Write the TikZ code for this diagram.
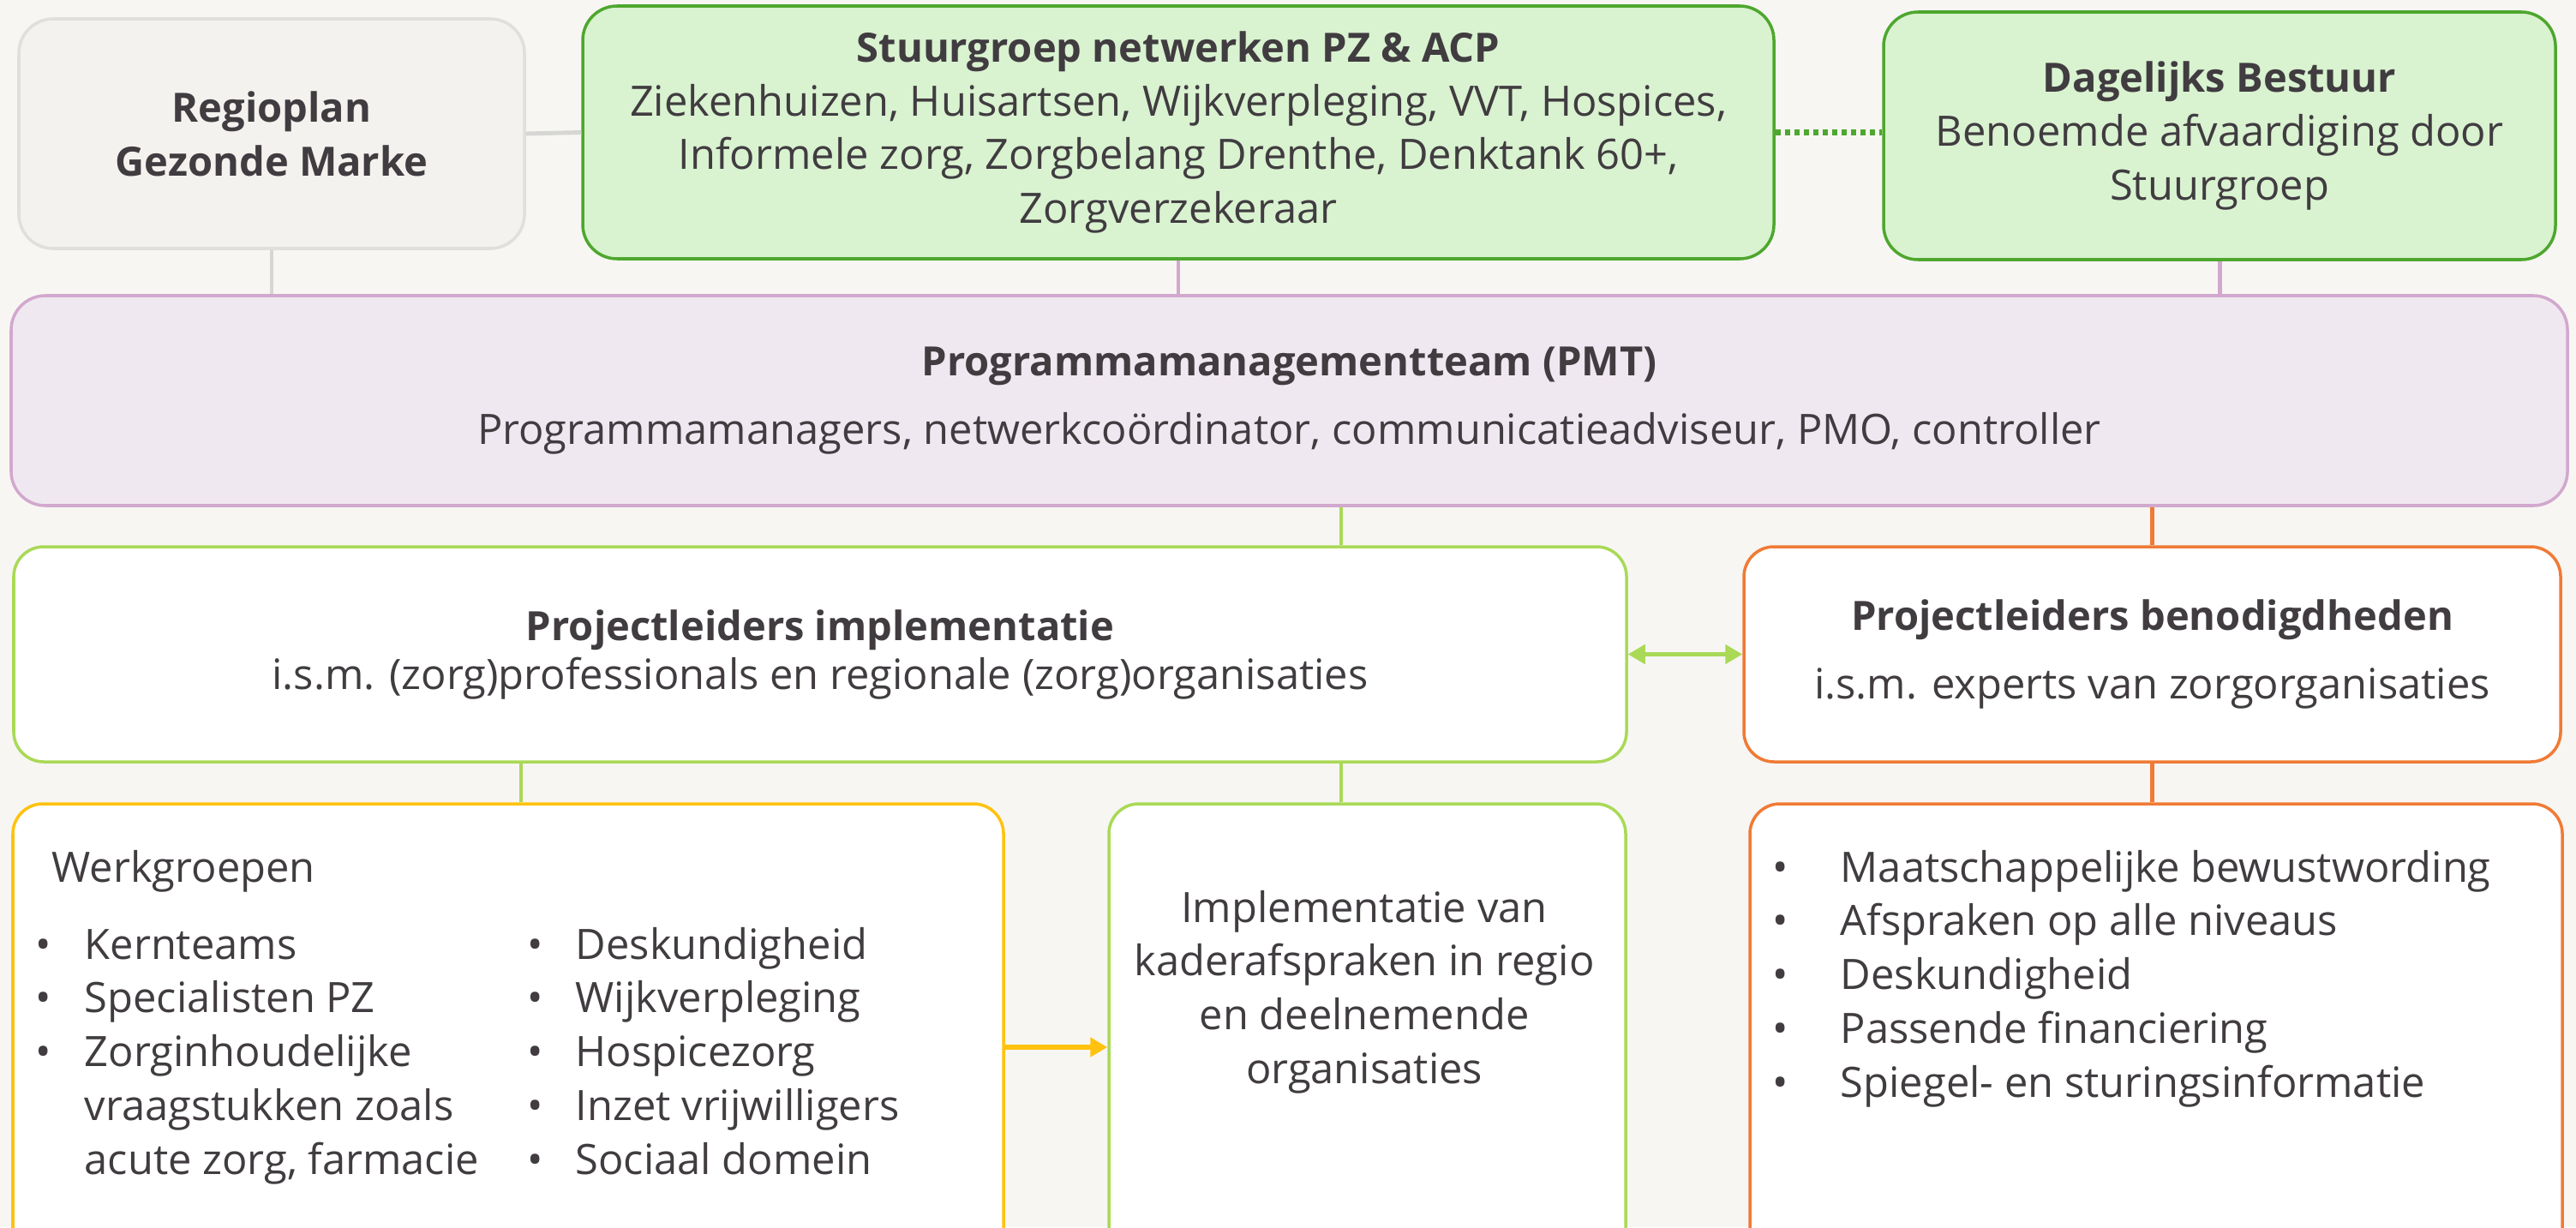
\documentclass[tikz,border=0pt]{standalone}
\usepackage{fontspec}
\setmainfont{Open Sans}
\usepackage{xcolor}
\usepackage{tikz}
\usetikzlibrary{shapes,arrows.meta,positioning,fit,backgrounds}

\definecolor{achter}{HTML}{F7F6F3}
\definecolor{tekst}{HTML}{403C40}
\definecolor{grijsvul}{HTML}{F3F2EE}
\definecolor{grijsrand}{HTML}{E0DFDC}
\definecolor{grijslijn}{HTML}{D6D6D4}
\definecolor{groenvul}{HTML}{D9F2D0}
\definecolor{groenrand}{HTML}{4EA72E}
\definecolor{paarsvul}{HTML}{F0E8F0}
\definecolor{paarsrand}{HTML}{D2A8CE}
\definecolor{limoen}{HTML}{A9D957}
\definecolor{oranje}{HTML}{F07A35}
\definecolor{geel}{HTML}{FFC20E}

\newcommand{\titel}[1]{{\fontsize{13.4}{17.9}\selectfont\bfseries #1}}

\begin{document}
\begin{tikzpicture}[
    x=1cm, y=-1cm,
    font=\fontsize{13.9}{17.9}\selectfont, text=tekst,
    blok/.style={rectangle, rounded corners=0.4cm, draw, line width=1pt, align=center, inner sep=0pt},
    zakken/.style={execute at begin node={\rule{0pt}{0.48cm}}},
    grijs/.style={blok, draw=grijsrand, fill=grijsvul},
    groen/.style={blok, zakken, draw=groenrand, fill=groenvul},
    paars/.style={blok, zakken, draw=paarsrand, fill=paarsvul},
    limoenblok/.style={blok, draw=limoen, fill=white, rounded corners=0.35cm},
    oranjeblok/.style={blok, draw=oranje, fill=white, rounded corners=0.35cm},
    geelblok/.style={blok, draw=geel, fill=white, rounded corners=0.35cm},
    lijst/.style={anchor=base west, inner sep=0pt},
    lijn/.style={line width=1.4pt},
    kop/.tip={Triangle[length=0.2cm, width=0.22cm]},
    pijl/.style={line width=1.6pt, -kop}
]
    \useasboundingbox (0,0) rectangle (30.06,14.32);
    \clip (0,0) rectangle (30.06,14.32);
    \fill[achter] (0,0) rectangle (30.06,14.32);

    \node[grijs, minimum width=5.90cm, minimum height=2.68cm] (regioplan) at (3.17,1.56)
        {\titel{Regioplan}\\\titel{Gezonde Marke}};
    \node[groen, minimum width=13.90cm, minimum height=2.95cm] (stuurgroep) at (13.75,1.545)
        {\titel{Stuurgroep netwerken PZ \& ACP}\\Ziekenhuizen, Huisartsen, Wijkverpleging, VVT, Hospices,\\Informele zorg, Zorgbelang Drenthe, Denktank 60+,\\Zorgverzekeraar};
    \node[groen, minimum width=7.84cm, minimum height=2.89cm] (bestuur) at (25.90,1.585)
        {\titel{Dagelijks Bestuur}\\Benoemde afvaardiging door\\Stuurgroep};
    \node[paars, minimum width=29.83cm, minimum height=2.45cm] (pmt) at (15.045,4.675)
        {\titel{Programmamanagementteam (PMT)}\\[4.9pt]Programmamanagers, netwerkcoördinator, communicatieadviseur, PMO, controller};
    \node[limoenblok, minimum width=18.82cm, minimum height=2.51cm] (implementatie) at (9.57,7.635)
        {\titel{Projectleiders implementatie}\\[-1.7pt]i.s.m. (zorg)professionals en regionale (zorg)organisaties};
    \node[oranjeblok, zakken, minimum width=9.53cm, minimum height=2.51cm] (benodigd) at (25.115,7.635)
        {\titel{Projectleiders benodigdheden}\\[4.9pt]i.s.m. experts van zorgorganisaties};
    \node[geelblok, minimum width=11.56cm, minimum height=5.52cm] (werkgroepen) at (5.93,12.14) {};
    \node[limoenblok, minimum width=6.03cm, minimum height=5.52cm] (kader) at (15.955,12.14) {};
    \node[oranjeblok, minimum width=9.48cm, minimum height=5.52cm] (middelen) at (25.16,12.14) {};

    \node[lijst] (wgkop) at (0.60,10.29) {Werkgroepen};
    \node[lijst] (wglijst) at (0.41,11.19) {\begin{tabular}[t]{@{}p{0.57cm}@{}p{5.17cm}@{}p{0.56cm}@{}l@{}}
        \textbullet & Kernteams & \textbullet & Deskundigheid\\
        \textbullet & Specialisten PZ & \textbullet & Wijkverpleging\\
        \textbullet & Zorginhoudelijke & \textbullet & Hospicezorg\\
        & vraagstukken zoals & \textbullet & Inzet vrijwilligers\\
        & acute zorg, farmacie & \textbullet & Sociaal domein
    \end{tabular}};
    \node[anchor=base, inner sep=0pt] (kadertekst) at (15.92,10.76) {\begin{tabular}[t]{@{}c@{}}
        Implementatie van\\kaderafspraken in regio\\en deelnemende\\organisaties
    \end{tabular}};
    \node[lijst] (middelenlijst) at (20.68,10.29) {\begin{tabular}[t]{@{}p{0.79cm}@{}l@{}}
        \textbullet & Maatschappelijke bewustwording\\
        \textbullet & Afspraken op alle niveaus\\
        \textbullet & Deskundigheid\\
        \textbullet & Passende financiering\\
        \textbullet & Spiegel- en sturingsinformatie
    \end{tabular}};

    \draw[lijn, grijslijn] (regioplan.east) -- (stuurgroep.west);
    \draw[groenrand, line width=1.8pt, dash pattern=on 0.06cm off 0.05cm] (stuurgroep.east) -- (stuurgroep.east -| bestuur.west);
    \draw[lijn, grijslijn] (regioplan.south) -- (regioplan.south |- pmt.north);
    \draw[lijn, paarsrand] (stuurgroep.south) -- (stuurgroep.south |- pmt.north);
    \draw[lijn, paarsrand] (bestuur.south) -- (bestuur.south |- pmt.north);
    \draw[lijn, limoen] (pmt.south -| 15.65,0) -- (implementatie.north -| 15.65,0);
    \draw[lijn, oranje] (benodigd.north) -- (benodigd.north |- pmt.south);
    \draw[lijn, limoen] (implementatie.south -| 6.08,0) -- (werkgroepen.north -| 6.08,0);
    \draw[lijn, limoen] (implementatie.south -| 15.65,0) -- (kader.north -| 15.65,0);
    \draw[lijn, oranje] (benodigd.south) -- (benodigd.south |- middelen.north);
    \draw[lijn, limoen, kop-kop] (implementatie.east) -- (benodigd.west);
    \draw[pijl, geel] (werkgroepen.east |- 0,12.22) -- (kader.west |- 0,12.22);
\end{tikzpicture}
\end{document}
